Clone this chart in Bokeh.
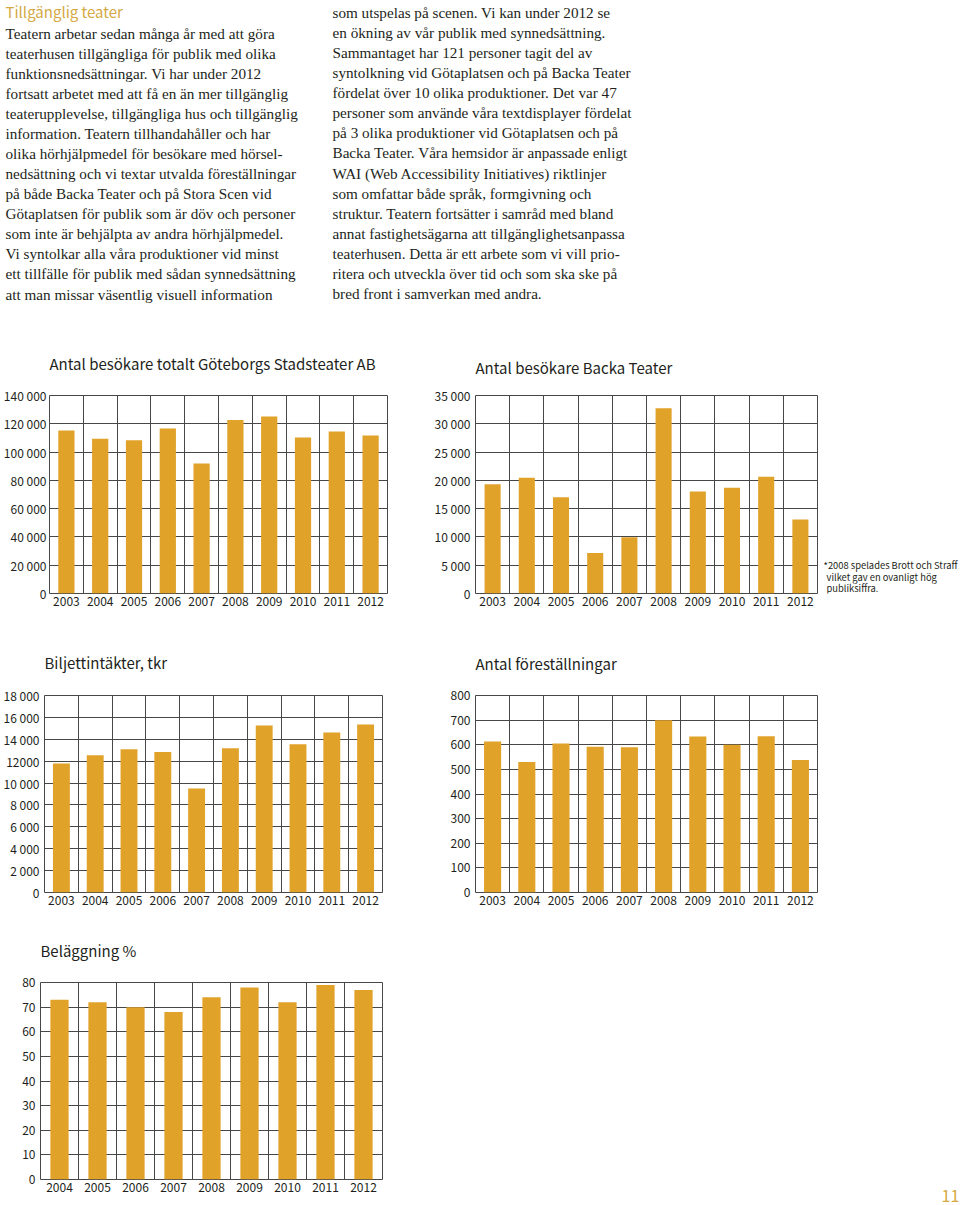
from bokeh.plotting import figure
from bokeh.models import Range1d, FixedTicker, Title
from bokeh.layouts import column, row
from bokeh.core.properties import value
from bokeh.embed import file_html
from bokeh.resources import INLINE

# ---------------- data ----------------
years = ["2003", "2004", "2005", "2006", "2007", "2008", "2009", "2010", "2011", "2012"]
visitors_total = [115200, 109400, 108400, 116700, 92000, 122600, 125200, 110300, 114600, 111700]
visitors_backa = [19300, 20450, 17000, 7150, 9950, 32750, 18050, 18700, 20650, 13100]
ticket_revenue = [11780, 12540, 13080, 12840, 9500, 13170, 15270, 13540, 14630, 15360]
performances = [613, 530, 605, 592, 590, 700, 633, 600, 635, 538]
occupancy_years = ["2004", "2005", "2006", "2007", "2008", "2009", "2010", "2011", "2012"]
occupancy = [73, 72, 70, 68, 74, 78, 72, 79, 77]

ticks_total = [0, 20000, 40000, 60000, 80000, 100000, 120000, 140000]
labels_total = ["0", "20 000", "40 000", "60 000", "80 000", "100 000", "120 000", "140 000"]
ticks_backa = [0, 5000, 10000, 15000, 20000, 25000, 30000, 35000]
labels_backa = ["0", "5 000", "10 000", "15 000", "20 000", "25 000", "30 000", "35 000"]
ticks_revenue = [0, 2000, 4000, 6000, 8000, 10000, 12000, 14000, 16000, 18000]
labels_revenue = ["0", "2 000", "4 000", "6 000", "8 000", "10 000", "12000", "14 000", "16 000", "18 000"]
ticks_perf = [0, 100, 200, 300, 400, 500, 600, 700, 800]
labels_perf = ["0", "100", "200", "300", "400", "500", "600", "700", "800"]
ticks_occ = [0, 10, 20, 30, 40, 50, 60, 70, 80]
labels_occ = ["0", "10", "20", "30", "40", "50", "60", "70", "80"]

heading = "Tillgänglig teater"
left_lines = [
    "Teatern arbetar sedan många år med att göra",
    "teaterhusen tillgängliga för publik med olika",
    "funktionsnedsättningar. Vi har under 2012",
    "fortsatt arbetet med att få en än mer tillgänglig",
    "teaterupplevelse, tillgängliga hus och tillgänglig",
    "information. Teatern tillhandahåller och har",
    "olika hörhjälpmedel för besökare med hörsel-",
    "nedsättning och vi textar utvalda föreställningar",
    "på både Backa Teater och på Stora Scen vid",
    "Götaplatsen för publik som är döv och personer",
    "som inte är behjälpta av andra hörhjälpmedel.",
    "Vi syntolkar alla våra produktioner vid minst",
    "ett tillfälle för publik med sådan synnedsättning",
    "att man missar väsentlig visuell information",
]
right_lines = [
    "som utspelas på scenen. Vi kan under 2012 se",
    "en ökning av vår publik med synnedsättning.",
    "Sammantaget har 121 personer tagit del av",
    "syntolkning vid Götaplatsen och på Backa Teater",
    "fördelat över 10 olika produktioner. Det var 47",
    "personer som använde våra textdisplayer fördelat",
    "på 3 olika produktioner vid Götaplatsen och på",
    "Backa Teater. Våra hemsidor är anpassade enligt",
    "WAI (Web Accessibility Initiatives) riktlinjer",
    "som omfattar både språk, formgivning och",
    "struktur. Teatern fortsätter i samråd med bland",
    "annat fastighetsägarna att tillgänglighetsanpassa",
    "teaterhusen. Detta är ett arbete som vi vill prio-",
    "ritera och utveckla över tid och som ska ske på",
    "bred front i samverkan med andra.",
]
note_lines = ["*2008 spelades Brott och Straff", "vilket gav en ovanligt hög", "publiksiffra."]
page_number = "11"

# ---------------- style ----------------
SANS = "Noto Sans CJK SC"
SERIF = "Liberation Serif"
BAR = "#E0A229"
GRID = "#474747"
INK = "#231F20"
GOLD = "#D5A943"


def text_canvas(w, h, x0=0, y0=0, bt=0, bb=0):
    # canvas whose frame uses page pixel coordinates
    p = figure(width=w, height=h, output_backend="svg", toolbar_location=None,
               x_range=Range1d(x0, x0 + w), y_range=Range1d(y0 + h - bb, y0 + bt),
               x_axis_type=None, y_axis_type=None, min_border=0,
               min_border_top=bt, min_border_bottom=bb)
    p.grid.visible = False
    p.outline_line_color = None
    p.background_fill_color = "white"
    p.border_fill_color = "white"
    return p


def chart(title, cats, vals, ticks, tick_labels, w, h, bl, br, bt, bb, bar_w, standoff, ystand=5):
    n = len(cats)
    p = figure(width=w, height=h, output_backend="svg", toolbar_location=None,
               x_range=Range1d(0, n), y_range=Range1d(0, ticks[-1]),
               min_border_left=bl, min_border_right=br, min_border_top=bt, min_border_bottom=bb)
    centers = [i + 0.5 for i in range(n)]
    p.vbar(x=centers, top=vals, width=bar_w, fill_color=BAR, line_color=None)
    p.add_layout(Title(text=title, align="left", text_font=SANS, text_font_size="15px",
                       text_font_style="normal", text_color=INK, standoff=standoff), "above")
    p.xaxis.ticker = FixedTicker(ticks=centers)
    p.xaxis.major_label_overrides = {c: y for c, y in zip(centers, cats)}
    p.yaxis.ticker = FixedTicker(ticks=ticks)
    p.yaxis.major_label_overrides = {t: l for t, l in zip(ticks, tick_labels)}
    p.xgrid.ticker = FixedTicker(ticks=list(range(1, n)))
    p.ygrid.ticker = FixedTicker(ticks=ticks)
    p.axis.axis_line_color = None
    p.axis.major_tick_line_color = None
    p.axis.minor_tick_line_color = None
    p.axis.major_tick_out = 0
    p.axis.major_tick_in = 0
    p.axis.minor_tick_out = 0
    p.axis.minor_tick_in = 0
    p.axis.major_label_text_font = SANS
    p.axis.major_label_text_font_size = "12px"
    p.axis.major_label_text_color = INK
    p.xaxis.major_label_standoff = 3
    p.yaxis.major_label_standoff = ystand
    p.grid.grid_line_color = GRID
    p.grid.grid_line_alpha = 1
    p.grid.grid_line_width = 1
    p.outline_line_color = GRID
    p.outline_line_alpha = 1
    p.outline_line_width = 1
    p.background_fill_color = "white"
    p.border_fill_color = "white"
    return p


# ---------------- text block (page 0..317) ----------------
top = text_canvas(960, 317)
top.text(x=[5], y=[11], text=[heading], text_font=value(SANS), text_font_size="15px",
         text_color=GOLD, text_baseline="alphabetic")
top.text(x=[5] * len(left_lines), y=[32.5 + 20.08 * i for i in range(len(left_lines))], text=left_lines,
         text_font=value(SERIF), text_font_size="15.2px", text_color=INK, text_baseline="alphabetic")
top.text(x=[332] * len(right_lines), y=[11.5 + 20.14 * i for i in range(len(right_lines))], text=right_lines,
         text_font=value(SERIF), text_font_size="15.2px", text_color=INK, text_baseline="alphabetic")

# ---------------- row 1 (page 317..620) ----------------
c1 = chart("Antal besökare totalt Göteborgs Stadsteater AB", years, visitors_total, ticks_total, labels_total,
           423, 303, 46, 36, 78, 27, 0.48, 44, ystand=3)
c2 = chart("Antal besökare Backa Teater", years, visitors_backa, ticks_backa, labels_backa,
           400, 303, 52, 6, 78, 27, 0.47, 35)
note = text_canvas(137, 303, x0=823, y0=317, bt=78, bb=27)
note.text(x=[823, 826, 826], y=[564, 576, 587], text=note_lines, text_font=value(SANS),
          text_font_size="9.4px", text_color=INK, text_baseline="alphabetic")

# ---------------- row 2 (page 620..915) ----------------
c3 = chart("Biljettintäkter, tkr", years, ticket_revenue, ticks_revenue, labels_revenue,
           423, 295, 41, 41, 75, 23, 0.5, 45)
c4 = chart("Antal föreställningar", years, performances, ticks_perf, labels_perf,
           537, 295, 52, 143, 75, 23, 0.5, 43)

# ---------------- row 3 (page 915..1205) ----------------
c5 = chart("Beläggning %", occupancy_years, occupancy, ticks_occ, labels_occ,
           423, 290, 40, 41, 67, 26, 0.48, 44)
pn = figure(width=537, height=290, output_backend="svg", toolbar_location=None,
            x_range=Range1d(423, 960), y_range=Range1d(0, 1), y_axis_type=None,
            min_border_left=0, min_border_right=0, min_border_top=67, min_border_bottom=26)
pn.grid.visible = False
pn.outline_line_color = None
pn.xaxis.ticker = FixedTicker(ticks=[950])
pn.xaxis.major_label_overrides = {950: page_number}
pn.xaxis.axis_line_color = None
pn.xaxis.major_tick_line_color = None
pn.xaxis.minor_tick_line_color = None
pn.xaxis.major_tick_out = 0
pn.xaxis.minor_tick_out = 0
pn.xaxis.major_label_text_font = SANS
pn.xaxis.major_label_text_font_size = "16px"
pn.xaxis.major_label_text_color = GOLD
pn.xaxis.major_label_standoff = 10

layout = column(top, row(c1, c2, note), row(c3, c4), row(c5, pn))

open("out.html", "w").write(file_html(layout, INLINE))
